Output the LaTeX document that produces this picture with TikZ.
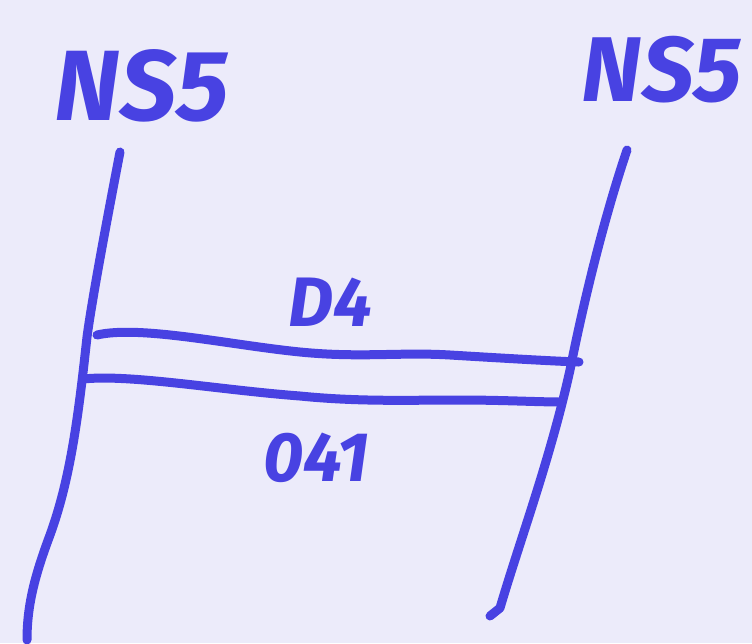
\documentclass[tikz,border=0pt]{standalone}
\usepackage{fontspec}
\setmainfont{Fira Sans}
\definecolor{paper}{RGB}{236,235,250}
\definecolor{ink}{RGB}{72,66,226}
\begin{document}
\begin{tikzpicture}[x=1pt,y=-1pt,
  pen/.style={draw=ink,line width=9pt,line cap=round,line join=round},
  lbl/.style={text=ink,inner sep=0pt}]
\fill[paper] (0,0) rectangle (752,643);
\useasboundingbox (0,0) rectangle (752,643);
% labels
\node[lbl,font=\fontsize{100}{100}\selectfont\itshape\bfseries] (nl) at (142,86) {NS5};
\node[lbl,font=\fontsize{92}{92}\selectfont\itshape\bfseries] (nr) at (662,70) {NS5};
\node[lbl,font=\fontsize{70}{70}\selectfont\itshape\bfseries] (d4) at (330,302) {D4};
\node[lbl,font=\fontsize{70}{70}\selectfont\itshape\bfseries] (o41) at (316,458) {041};
% vertical lines
\coordinate (lt) at (120,152);
\coordinate (lb) at (27,640);
\coordinate (rt) at (627,150);
\coordinate (rb) at (500,608);
\coordinate (a1) at (97,335);
\coordinate (b1) at (579,362);
\coordinate (a2) at (83,379);
\coordinate (b2) at (560,402);
\draw[pen] (lt) .. controls (105,230) and (92,300) .. (87,337)
  .. controls (78,420) and (70,480) .. (50,535)
  .. controls (35,575) and (27,605) .. (lb);
\draw[pen] (rt) .. controls (600,230) and (580,320) .. (570,370)
  .. controls (550,460) and (520,540) .. (rb) -- (490,616);
% horizontal connectors
\draw[pen] (a1) .. controls (140,325) and (230,345) .. (300,352)
  .. controls (360,358) and (400,352) .. (450,355)
  .. controls (500,358) and (550,361) .. (b1);
\draw[pen] (a2) .. controls (130,374) and (220,390) .. (300,396)
  .. controls (360,402) and (410,400) .. (460,400)
  .. controls (500,400) and (540,402) .. (b2);
\end{tikzpicture}
\end{document}
